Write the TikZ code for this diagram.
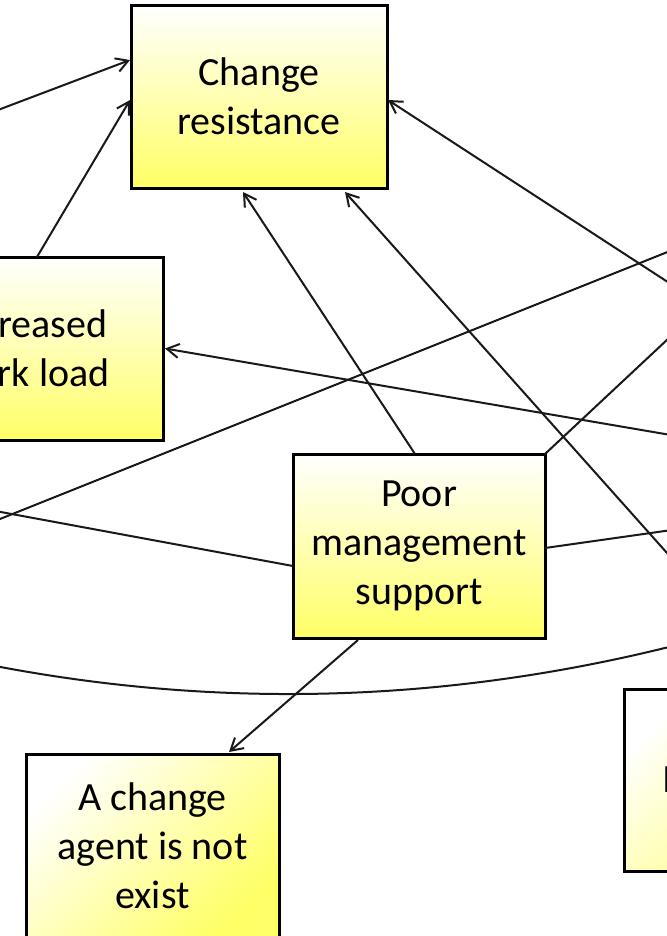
\documentclass[tikz,border=0pt]{standalone}
\usepackage{fontspec}
\setmainfont{Carlito}
\usetikzlibrary{arrows.meta,calc}
\definecolor{boxyellow}{RGB}{255,255,102}
\tikzset{
  boxv/.style={draw=black, line width=2.25pt, outer sep=0pt, top color=white, bottom color=boxyellow,
    align=center, inner sep=0pt, font=\fontsize{30}{36.75}\selectfont},
  boxd/.style={boxv, shading angle=45},
  conn/.style={draw=black!90, line width=1.5pt},
  arr/.style={conn, -{Straight Barb[length=9pt,width=10.5pt,line width=1.5pt]}},
}
\begin{document}
\begin{tikzpicture}[x=0.75pt,y=-0.75pt]
\useasboundingbox (0,0) rectangle (667,936);
\clip (0,0) rectangle (667,936);
\fill[white] (0,0) rectangle (667,936);

% boxes
\node[boxv, minimum width=192pt, minimum height=137.25pt] (cr) at (259,96.5) {Change\\resistance};
\node[boxv, minimum width=201pt, minimum height=137.25pt] (iwl) at (29,348.5) {Increased\\work load};
\node[boxv, minimum width=189pt, minimum height=138pt] (pms) at (419,546) {Poor\\management\\support};
\node[boxd, minimum width=189.75pt, minimum height=138pt] (ace) at (152.5,846) {A change\\agent is not\\exist};
\node[boxd, minimum width=189pt, minimum height=136.5pt] (rb) at (750,780) {};
\node[anchor=base west, inner sep=0pt, font=\fontsize{30}{36.75}\selectfont] (rbtext) at (662,792) {I};

% free ends
\coordinate (a0) at (-10,113);
\coordinate (d0) at (700,590);
\coordinate (e0) at (700,303);
\coordinate (f0) at (-10,523);
\coordinate (f1) at (700,239);
\coordinate (g0) at (-10,510);
\coordinate (h0) at (700,526);
\coordinate (i0) at (700,309);
\coordinate (j0) at (700,440);
\coordinate (k0) at (-10,665);
\coordinate (k1) at (700,639);

% connectors
\draw[arr] (a0) -- ($(cr.north west)+(-1,55)$);
\draw[arr] ($(iwl.north west)+(142,0)$) -- ($(cr.north west)+(-1,95)$);
\draw[arr] ($(pms.north west)+(122,0)$) -- ($(cr.south west)+(112,4)$);
\draw[arr] (d0) -- ($(cr.south west)+(214,4)$);
\draw[arr] (e0) -- ($(cr.north east)+(1,95)$);
\draw[conn] (f0) -- (f1);
\draw[conn] ($(pms.west)+(0,20)$) -- (g0);
\draw[conn] ($(pms.east)+(0,2)$) -- (h0);
\draw[conn] (pms.north east) -- (i0);
\draw[arr] (j0) -- ($(iwl.east)+(2,0)$);
\draw[conn] (k0) .. controls (226.7,711) and (463.3,702.3) .. (k1);
\draw[arr] ($(pms.south west)+(65,2)$) -- ($(ace.north west)+(203,-2)$);
\end{tikzpicture}
\end{document}
